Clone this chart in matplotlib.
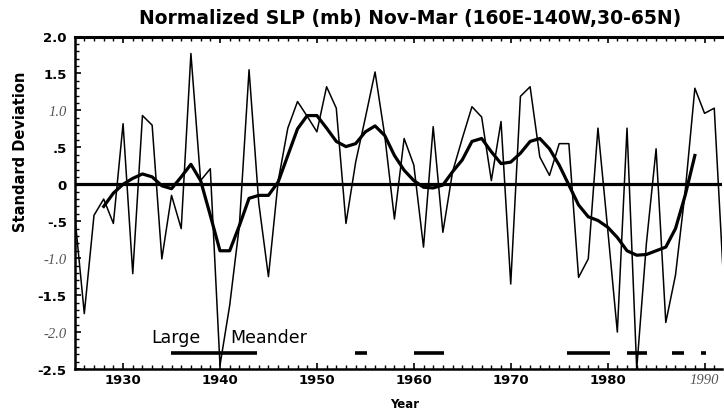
import matplotlib.pyplot as plt
from matplotlib.ticker import MultipleLocator

# winter (Nov-Mar) normalized SLP
years = list(range(1925, 1993))
slp = [-0.40, -1.75, -0.42, -0.20, -0.53, 0.82, -1.21, 0.93, 0.80, -1.01,
       -0.15, -0.60, 1.77, 0.05, 0.21, -2.45, -1.64, -0.56, 1.55, -0.25,
       -1.25, 0.04, 0.76, 1.12, 0.92, 0.71, 1.32, 1.03, -0.53, 0.30,
       0.90, 1.52, 0.66, -0.47, 0.62, 0.26, -0.85, 0.78, -0.65, 0.17,
       0.62, 1.05, 0.91, 0.05, 0.85, -1.35, 1.19, 1.32, 0.37, 0.12,
       0.55, 0.55, -1.26, -1.01, 0.76, -0.60, -2.00, 0.76, -2.50, -0.80,
       0.48, -1.87, -1.23, -0.10, 1.30, 0.96, 1.03, -1.40]

# smoothed curve
smooth_years = list(range(1928, 1990))
smooth = [-0.30, -0.12, 0.00, 0.08, 0.14, 0.10, -0.02, -0.06, 0.10, 0.27,
          0.05, -0.42, -0.90, -0.90, -0.56, -0.19, -0.15, -0.15, 0.03, 0.39,
          0.75, 0.93, 0.93, 0.76, 0.58, 0.51, 0.55, 0.71, 0.79, 0.66,
          0.39, 0.19, 0.05, -0.04, -0.05, -0.01, 0.17, 0.33, 0.58, 0.62,
          0.44, 0.28, 0.30, 0.42, 0.58, 0.62, 0.48, 0.26, -0.01, -0.28,
          -0.44, -0.49, -0.58, -0.72, -0.90, -0.96, -0.95, -0.90, -0.85, -0.60,
          -0.15, 0.39]

# large meander periods
lm_start = [1934.9, 1953.9, 1960.0, 1975.8, 1982.0, 1986.6, 1989.6]
lm_end = [1943.8, 1955.2, 1963.1, 1980.2, 1984.1, 1987.9, 1990.1]
lm_level = -2.28

ytick_vals = [2.0, 1.5, 1.0, 0.5, 0.0, -0.5, -1.0, -1.5, -2.0, -2.5]
ytick_text = ["2.0", "1.5", "1.0", ".5", "0", "-.5", "-1.0", "-1.5", "-2.0", "-2.5"]
xtick_vals = [1930, 1940, 1950, 1960, 1970, 1980, 1990]

fig = plt.figure(figsize=(7.24, 4.14), dpi=100)
ax = fig.add_axes([75 / 724, 44 / 414, 647 / 724, 332.5 / 414])

ax.axhline(0, color="black", lw=2.3, zorder=2)
ax.plot(years, slp, color="black", lw=1.1, zorder=3)
ax.plot(smooth_years, smooth, color="black", lw=2.3, solid_joinstyle="round", zorder=3)
ax.hlines([lm_level] * len(lm_start), lm_start, lm_end, color="black", lw=2.6)

ax.text(1935.5, -2.07, "Large", fontsize=12.5, ha="center", va="center")
ax.text(1945.0, -2.07, "Meander", fontsize=12.5, ha="center", va="center")

ax.set_xlim(1925.04, 1991.8)
ax.set_ylim(-2.5, 2.0)

ax.set_yticks(ytick_vals)
ax.set_yticklabels(ytick_text)
ax.set_xticks(xtick_vals)
ax.yaxis.set_minor_locator(MultipleLocator(0.1))
ax.xaxis.set_minor_locator(MultipleLocator(1))
ax.tick_params(axis="both", which="both", direction="in", top=True, right=False)
ax.tick_params(which="major", length=4, width=1.2)
ax.tick_params(which="minor", length=3, width=1.0)
ax.tick_params(axis="y", pad=6)
ax.tick_params(axis="x", pad=3)

serif = ["1.0", "-1.0", "-2.0", "1990"]
for lab in ax.get_yticklabels() + ax.get_xticklabels():
    if lab.get_text() in serif:
        lab.set_family("Liberation Serif")
        lab.set_style("italic")
        lab.set_color("#555555")
        lab.set_fontsize(10.5)
    else:
        lab.set_fontweight("bold")
        lab.set_fontsize(9.5)

ax.spines["right"].set_visible(False)
ax.spines["top"].set_linewidth(2.2)
ax.spines["bottom"].set_linewidth(1.8)
ax.spines["left"].set_linewidth(1.8)

fig.text(0.566, 0.956, "Normalized SLP (mb) Nov-Mar (160E-140W,30-65N)",
         ha="center", va="center", fontsize=13.5, fontweight="bold")
fig.text(0.028, 0.633, "Standard Deviation", rotation=90,
         ha="center", va="center", fontsize=10.5, fontweight="bold")
fig.text(0.559, 0.023, "Year", ha="center", va="center", fontsize=8.5, fontweight="bold")

fig.savefig("out.png", dpi=100)
